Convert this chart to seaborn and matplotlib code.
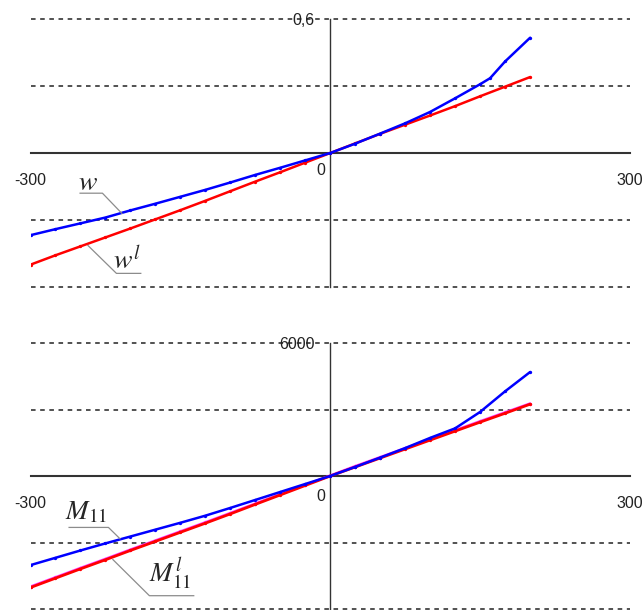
import matplotlib
matplotlib.use("Agg")
import matplotlib.pyplot as plt
import seaborn as sns

# top panel: deflection w and its linear solution w^l
x_w = [-300, -275, -250, -225, -200, -175, -150, -125, -100, -75, -50, -25,
       0, 25, 50, 75, 100, 125, 150, 160, 175, 200]
w = [-0.368, -0.341, -0.315, -0.289, -0.257, -0.227, -0.196, -0.165, -0.132,
     -0.098, -0.066, -0.033, 0.0, 0.042, 0.087, 0.133, 0.184, 0.245, 0.308,
     0.335, 0.410, 0.516]

x_grid = [-300, -275, -250, -225, -200, -175, -150, -125, -100, -75, -50, -25,
          0, 25, 50, 75, 100, 125, 150, 175, 200]
w_l = [-0.500, -0.458, -0.418, -0.378, -0.338, -0.297, -0.256, -0.214, -0.171,
       -0.128, -0.086, -0.043, 0.0, 0.043, 0.086, 0.127, 0.168, 0.210, 0.254,
       0.297, 0.340]

# bottom panel: moment M11, linear M11^l and a near-identical companion curve
m11 = [-4020, -3690, -3360, -3040, -2730, -2420, -2110, -1790, -1440, -1080,
       -720, -360, 0, 410, 830, 1260, 1720, 2150, 2890, 3820, 4690]
m11_l = [-5030, -4610, -4190, -3780, -3360, -2950, -2540, -2130, -1710, -1280,
         -855, -428, 0, 405, 810, 1215, 1620, 2025, 2430, 2830, 3240]
m11_m = [-4990, -4570, -4150, -3740, -3320, -2910, -2500, -2090, -1670, -1245,
         -820, -400, 20, 445, 850, 1255, 1660, 2065, 2470, 2870, 3270]

top_grid = [-0.6, -0.3, 0.3, 0.6]
bottom_grid = [-6000, -3000, 3000, 6000]

sns.set_style("white")
plt.rcParams["font.family"] = ["Liberation Sans", "DejaVu Sans"]
plt.rcParams["mathtext.fontset"] = "stix"

fig = plt.figure(figsize=(6.42, 6.10), dpi=100)
W, H = 642.0, 610.0
ax1 = fig.add_axes([30.5 / W, 1 - 287 / H, 599.5 / W, 268 / H])
ax2 = fig.add_axes([30.5 / W, 1 - 609 / H, 599.5 / W, 266 / H])

AX_COL = "#333333"
TXT_COL = "#222222"
PX = 0.72  # points per pixel at dpi 100


def style_axes(ax, ymax, ylabel, xticks, grid):
    ax.set_xlim(-300, 300)
    ax.set_ylim(-ymax, ymax)
    ax.patch.set_alpha(0)
    for s in ["top", "right"]:
        ax.spines[s].set_visible(False)
    ax.spines["left"].set_position(("data", 0))
    ax.spines["bottom"].set_position(("data", 0))
    ax.spines["left"].set_color(AX_COL)
    ax.spines["left"].set_linewidth(1.0)
    ax.spines["bottom"].set_color(AX_COL)
    ax.spines["bottom"].set_linewidth(1.5)
    ax.set_xticks(xticks)
    ax.set_xticklabels([])
    ax.tick_params(axis="x", direction="out", length=4 * PX, width=1.1, color=AX_COL)
    ax.set_yticks([ymax])
    ax.set_yticklabels([ylabel])
    ax.tick_params(axis="y", direction="out", length=6 * PX, width=1.0,
                   color=AX_COL, pad=10 * PX, labelcolor=TXT_COL, labelsize=11.5)
    for lev in grid:
        ax.axhline(lev, color="#222222", lw=1.1, dashes=(3.0, 3.0),
                   clip_on=False, zorder=1)
    for xv, lab in [(-300, "-300"), (300, "300")]:
        ax.annotate(lab, xy=(xv, 0), xytext=(0, -32 * PX), textcoords="offset points",
                    ha="center", va="baseline", fontsize=11.5, color=TXT_COL,
                    annotation_clip=False)


style_axes(ax1, 0.6, "0,6", [-300, -150, 0, 150, 300], top_grid)
style_axes(ax2, 6000, "6000", [-300, -200, -100, 0, 100, 200, 300], bottom_grid)

ax1.annotate("0", xy=(0, 0), xytext=(-5 * PX, -22 * PX), textcoords="offset points",
             ha="right", va="baseline", fontsize=11.5, color=TXT_COL)
ax2.annotate("0", xy=(0, 0), xytext=(-5 * PX, -25 * PX), textcoords="offset points",
             ha="right", va="baseline", fontsize=11.5, color=TXT_COL)

line_kw = dict(marker="o", markersize=2.4, markeredgewidth=0, sort=False)

sns.lineplot(x=x_grid, y=w_l, ax=ax1, color="#ff0000", linewidth=1.8, zorder=3, **line_kw)
sns.lineplot(x=x_w, y=w, ax=ax1, color="#0000ff", linewidth=1.8, zorder=4, **line_kw)

sns.lineplot(x=x_grid, y=m11_m, ax=ax2, color="#ff33ff", linewidth=1.8, zorder=3, **line_kw)
sns.lineplot(x=x_grid, y=m11_l, ax=ax2, color="#ff0000", linewidth=2.0, zorder=3.5, **line_kw)
sns.lineplot(x=x_grid, y=m11, ax=ax2, color="#0000ff", linewidth=1.8, zorder=4, **line_kw)

# curve labels with grey leader lines
LEAD = dict(color="#8c8c8c", lw=0.9, zorder=5, solid_capstyle="butt")
ax1.plot([-251, -228, -208], [-0.180, -0.180, -0.273], **LEAD)
ax1.plot([-243, -214, -189], [-0.412, -0.539, -0.539], **LEAD)
ax1.text(-242, -0.166, "$w$", fontsize=20, ha="center", va="baseline", zorder=6)
ax1.text(-217, -0.524, "$w^l$", fontsize=20, ha="left", va="baseline", zorder=6)

ax2.plot([-262, -222, -210], [-2320, -2320, -2850], **LEAD)
ax2.plot([-218, -181, -136], [-3750, -5400, -5400], **LEAD)
ax2.text(-265, -1950, "$M_{11}$", fontsize=19.5, ha="left", va="baseline", zorder=6)
ax2.text(-181, -4785, "$M_{11}^l$", fontsize=19.5, ha="left", va="baseline", zorder=6)

fig.savefig("out.png", dpi=100)
